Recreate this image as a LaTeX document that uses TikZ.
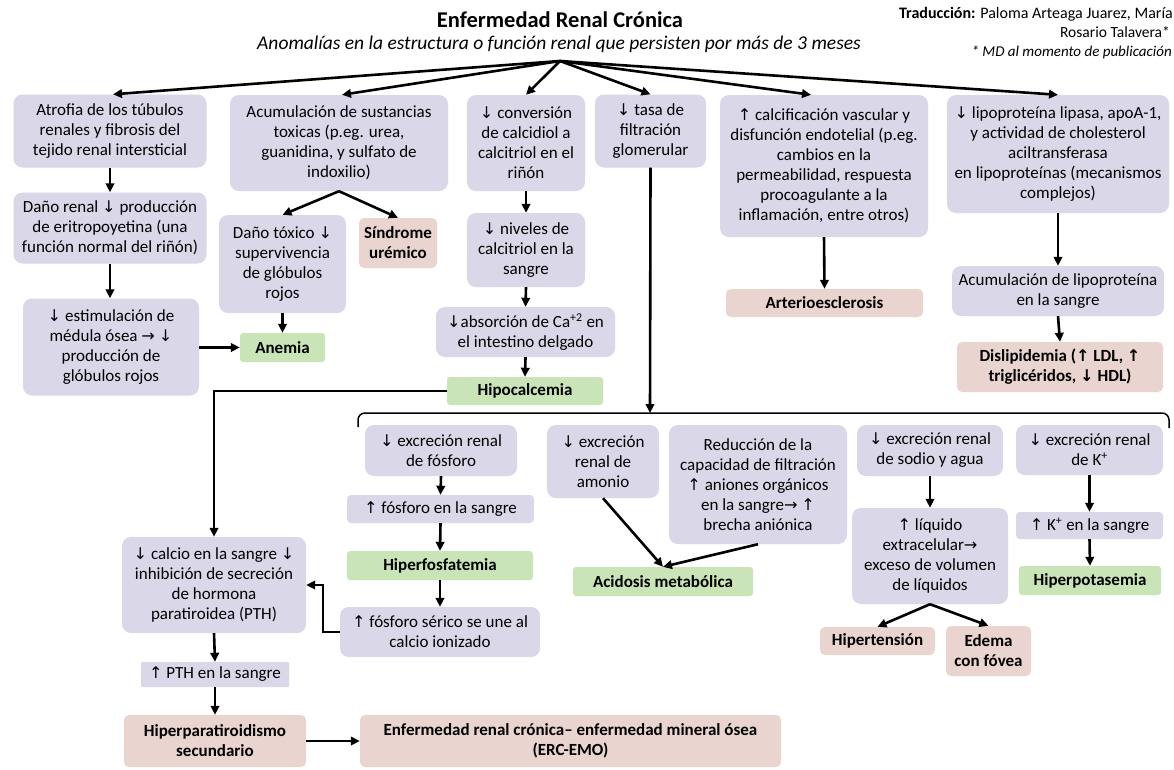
\documentclass[tikz,border=0pt]{standalone}
\usepackage{fontspec}
\setmainfont{Carlito}
\newfontfamily\arrfont[Scale=0.95]{DejaVu Sans}
\usetikzlibrary{arrows.meta}
\definecolor{lavC}{RGB}{218,215,232}
\definecolor{grnC}{RGB}{201,228,182}
\definecolor{pnkC}{RGB}{233,212,207}
\newcommand\myDn{{\arrfont ↓}}
\newcommand\myUp{{\arrfont ↑}}
\newcommand\myRa{{\arrfont →}}
\tikzset{
  boxbase/.style={align=center, inner sep=0pt, font=\fontsize{17}{20}\selectfont},
  lav/.style={boxbase, fill=lavC, rounded corners=9pt},
  lavs/.style={boxbase, fill=lavC, rounded corners=4pt},
  grn/.style={boxbase, fill=grnC, rounded corners=3pt, font=\fontsize{17}{20}\selectfont\bfseries},
  pnk/.style={boxbase, fill=pnkC, rounded corners=5pt, font=\fontsize{17}{20}\selectfont\bfseries},
  arr/.style={-{Triangle[length=9pt,width=8.5pt]}, line width=2.6pt, black},
}
\begin{document}
\begin{tikzpicture}[x=1pt,y=-1pt]
\useasboundingbox (0,0) rectangle (1174,769);
\fill[white] (0,0) rectangle (1174,769);

% header
\node[anchor=base, inner sep=0pt, font=\fontsize{22.5}{26}\selectfont\bfseries] (title) at (560,27) {Enfermedad Renal Crónica};
\node[anchor=base, inner sep=0pt, font=\fontsize{19.5}{23}\selectfont\itshape] (subtitle) at (559,49) {Anomalías en la estructura o función renal que persisten por más de 3 meses};
\node[anchor=base east, inner sep=0pt, font=\fontsize{16}{18}\selectfont] (trad1) at (1173,18) {\textbf{Traducción:} Paloma Arteaga Juarez, María};
\node[anchor=base east, inner sep=0pt, font=\fontsize{15.5}{18}\selectfont] (trad2) at (1170,37) {Rosario Talavera*};
\node[anchor=base east, inner sep=0pt, font=\fontsize{15}{17}\selectfont\itshape] (trad3) at (1172,56) {* MD al momento de publicación};
\coordinate (src) at (560,61);

% top row
\node[lav, minimum width=193, minimum height=73] (atrofia) at (110,131) {Atrofia de los túbulos\\renales y fibrosis del\\tejido renal intersticial};
\node[lav, minimum width=218, minimum height=96] (acum) at (339,143) {Acumulación de sustancias\\toxicas (p.eg. urea,\\guanidina, y sulfato de\\indoxilio)};
\node[lav, minimum width=118, minimum height=96] (conv) at (526,143) {\myDn{} conversión\\de calcidiol a\\calcitriol en el\\riñón};
\node[lav, minimum width=111, minimum height=73] (tasa) at (650.5,131) {\myDn{} tasa de\\filtración\\glomerular};
\node[lav, minimum width=208, minimum height=142] (calc) at (824,166) {\myUp{} calcificación vascular y\\disfunción endotelial (p.eg.\\cambios en la\\permeabilidad, respuesta\\procoagulante a la\\inflamación, entre otros)};
\node[lav, minimum width=222, minimum height=118] (lipo) at (1058,154) {\myDn{} lipoproteína lipasa, apoA-1,\\y actividad de cholesterol\\aciltransferasa\\en lipoproteínas (mecanismos\\complejos)};

% left column
\node[lav, minimum width=193, minimum height=71] (dano) at (110,228) {Daño renal \myDn{} producción\\de eritropoyetina (una\\función normal del riñón)};
\node[lav, minimum width=176, minimum height=97] (estim) at (111,347) {\myDn{} estimulación de\\médula ósea \myRa{} \myDn\\producción de\\glóbulos rojos};
\node[lav, minimum width=127, minimum height=98] (toxico) at (282.5,264) {Daño tóxico \myDn\\supervivencia\\de glóbulos\\rojos};
\node[pnk, minimum width=78, minimum height=50] (sindrome) at (398,243) {Síndrome\\urémico};
\node[grn, minimum width=85, minimum height=29] (anemia) at (282.5,347.5) {Anemia};

% calcitriol column
\node[lav, minimum width=118, minimum height=74] (niveles) at (526,250) {\myDn{} niveles de\\calcitriol en la\\sangre};
\node[lav, minimum width=179, minimum height=50] (absorc) at (525.5,332) {\myDn{}absorción de Ca\textsuperscript{+2} en\\el intestino delgado};
\node[grn, minimum width=156, minimum height=28] (hipoca) at (525,391) {Hipocalcemia};

% right columns
\node[pnk, minimum width=197, minimum height=28] (arterio) at (824.5,303) {Arterioesclerosis};
\node[lav, minimum width=212, minimum height=50] (acumlipo) at (1058,291) {Acumulación de lipoproteína\\en la sangre};
\node[pnk, minimum width=206, minimum height=50] (dislip) at (1060,367) {Dislipidemia (\myUp{} LDL, \myUp\\triglicéridos, \myDn{} HDL)};

% bracket
\coordinate (br) at (650,413);
\draw[line width=1.5pt, rounded corners=7pt] (358,427) -- (358,413) -- (1169,413) -- (1169,428);

% lower row
\node[lav, minimum width=152, minimum height=51] (exfosf) at (441,450.5) {\myDn{} excreción renal\\de fósforo};
\node[lavs, minimum width=187, minimum height=28] (fosfsangre) at (440.5,509) {\myUp{} fósforo en la sangre};
\node[grn, minimum width=186, minimum height=29] (hiperfosf) at (440,565.5) {Hiperfosfatemia};
\node[lav, minimum width=200, minimum height=50] (serico) at (440,632) {\myUp{} fósforo sérico se une al\\calcio ionizado};
\node[lav, minimum width=112, minimum height=73] (amonio) at (603,461.5) {\myDn{} excreción\\renal de\\amonio};
\node[lav, minimum width=178, minimum height=119] (reduc) at (758,484.5) {Reducción de la\\capacidad de filtración\\\myUp{} aniones orgánicos\\en la sangre\myRa{} \myUp\\brecha aniónica};
\node[grn, minimum width=180, minimum height=29] (acidosis) at (663,581.5) {Acidosis metabólica};
\node[lav, minimum width=146, minimum height=51] (sodio) at (930,450.5) {\myDn{} excreción renal\\de sodio y agua};
\node[lav, minimum width=156, minimum height=96] (liquido) at (930,556) {\myUp{} líquido\\extracelular\myRa\\exceso de volumen\\de líquidos};
\node[pnk, minimum width=115, minimum height=28] (hipert) at (877.5,641) {Hipertensión};
\node[pnk, minimum width=85, minimum height=50] (edema) at (988.5,651) {Edema\\con fóvea};
\node[lav, minimum width=147, minimum height=50] (kexc) at (1089.5,450) {\myDn{} excreción renal\\de K\textsuperscript{+}};
\node[lavs, minimum width=147, minimum height=27] (ksangre) at (1089.5,525.5) {\myUp{} K\textsuperscript{+} en la sangre};
\node[grn, minimum width=142, minimum height=29] (hiperK) at (1090,580.5) {Hiperpotasemia};

% PTH column
\node[lav, minimum width=184, minimum height=96] (calcio) at (214,585) {\myDn{} calcio en la sangre \myDn\\inhibición de secreción\\de hormona\\paratiroidea (PTH)};
\node[lavs, minimum width=148, minimum height=25, rounded corners=1pt] (pth) at (215,674.5) {\myUp{} PTH en la sangre};
\node[pnk, minimum width=182, minimum height=52] (hiperpara) at (215,741) {Hiperparatiroidismo\\secundario};
\node[pnk, minimum width=421, minimum height=52] (erc) at (570.5,741) {Enfermedad renal crónica– enfermedad mineral ósea\\(ERC-EMO)};

% connectors: top fan
\draw[arr] (src) -- ([xshift=3pt]atrofia.north);
\draw[arr] (src) -- ([xshift=3pt]acum.north);
\draw[arr] (src) -- (conv.north);
\draw[arr] (src) -- (tasa.north);
\draw[arr] (src) -- ([xshift=-13pt]calc.north);
\draw[arr] (src) -- (lipo.north);

% left
\draw[arr] (atrofia.south) -- (dano.north);
\draw[arr] (dano.south) -- (dano.south |- estim.north);
\draw[arr] (estim.east |- anemia.west) -- (anemia.west);
\draw[arr] (acum.south) -- (toxico.north);
\draw[arr] (acum.south) -- (sindrome.north);
\draw[arr] (toxico.south) -- (anemia.north);

% calcitriol
\draw[arr] (conv.south) -- (niveles.north);
\draw[arr] (niveles.south) -- (absorc.north);
\draw[arr] (absorc.south) -- (hipoca.north);
\draw[arr] (hipoca.west) -| (calcio.north);

% tasa to bracket
\draw[arr] (tasa.south) -- (br);

% right
\draw[arr] (calc.south) -- (arterio.north);
\draw[arr] (lipo.south) -- (acumlipo.north);
\draw[arr] (acumlipo.south) -- (dislip.north);

% lower
\draw[arr] (exfosf.south) -- (fosfsangre.north);
\draw[arr] (fosfsangre.south) -- (hiperfosf.north);
\draw[arr] (hiperfosf.south) -- (serico.north);
\draw[arr] (serico.west) -- ++(-17,0) |- (calcio.east);
\draw[arr] (amonio.south) -- (acidosis.north);
\draw[arr] (reduc.south) -- (acidosis.north);
\draw[arr] (sodio.south) -- (liquido.north);
\draw[arr] (liquido.south) -- (hipert.north);
\draw[arr] (liquido.south) -- (edema.north);
\draw[arr] (kexc.south) -- (ksangre.north);
\draw[arr] (ksangre.south) -- (hiperK.north);

% PTH
\draw[arr] (calcio.south) -- (pth.north);
\draw[arr] (pth.south) -- (hiperpara.north);
\draw[arr] (hiperpara.east) -- (erc.west);
\end{tikzpicture}
\end{document}
